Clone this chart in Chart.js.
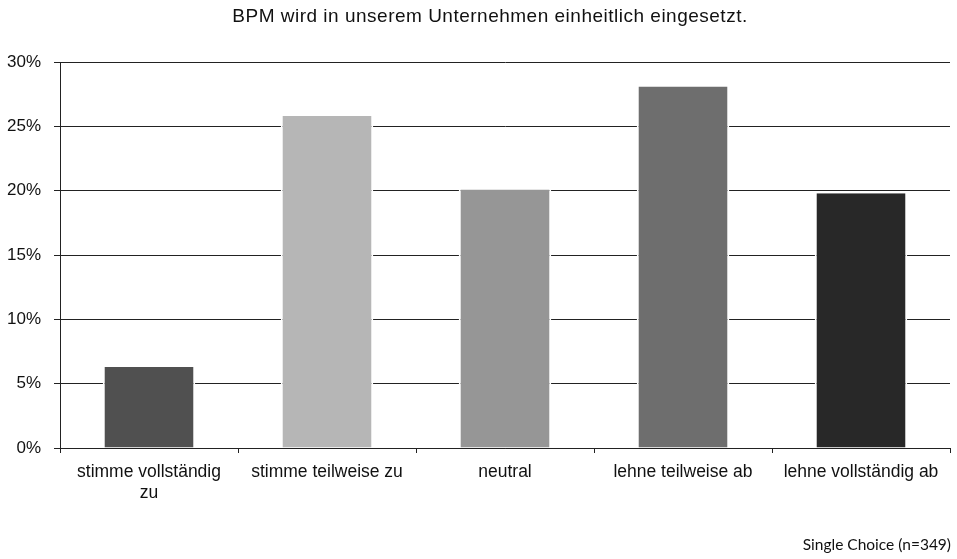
<!DOCTYPE html>
<html>
<head>
<meta charset="utf-8">
<script src="https://cdn.jsdelivr.net/npm/chart.js@4/dist/chart.umd.min.js"></script>
<style>
  html, body { margin: 0; padding: 0; background: #ffffff; }
  #wrap { width: 957px; height: 559px; }
</style>
</head>
<body>
<div id="wrap"><canvas id="c" width="957" height="559"></canvas></div>
<script>
// Answer categories (Likert scale)
const categories = [
  ['stimme vollständig', 'zu'],
  'stimme teilweise zu',
  'neutral',
  'lehne teilweise ab',
  'lehne vollständig ab'
];
// Share of respondents in percent (n = 349)
const shares = [6.3, 25.8, 20.1, 28.1, 19.8];
const barColors = ['#505050', '#b6b6b6', '#969696', '#6e6e6e', '#282828'];
const yTicks = [0, 5, 10, 15, 20, 25, 30];

const titleText = 'BPM wird in unserem Unternehmen einheitlich eingesetzt.';
const footerText = 'Single Choice (n=349)';

// Heading above the plot and the sample note in the lower right corner
const textPlugin = {
  id: 'headingAndNote',
  afterDraw(chart) {
    const ctx = chart.ctx;
    ctx.save();
    ctx.fillStyle = '#111111';
    ctx.textBaseline = 'middle';
    ctx.textAlign = 'center';
    ctx.font = '19px "Liberation Sans", Arial, sans-serif';
    ctx.letterSpacing = '0.5px';
    ctx.fillText(titleText, 490, 17);
    ctx.letterSpacing = '0px';
    ctx.textAlign = 'right';
    ctx.font = '15.5px Lato, "Open Sans", sans-serif';
    ctx.fillText(footerText, 951, 545);
    ctx.restore();
  }
};

new Chart(document.getElementById('c'), {
  type: 'bar',
  data: {
    labels: categories,
    datasets: [{
      data: shares,
      backgroundColor: barColors,
      borderColor: '#ffffff',
      borderWidth: { left: 2, right: 2, top: 0, bottom: 0 },
      borderSkipped: false,
      barPercentage: 0.52,
      categoryPercentage: 1.0
    }]
  },
  options: {
    responsive: false,
    animation: false,
    layout: { padding: { left: 0, right: 7, top: 62, bottom: 0 } },
    plugins: {
      legend: { display: false },
      tooltip: { enabled: false },
      title: { display: false }
    },
    scales: {
      x: {
        grid: {
          offset: true,
          drawOnChartArea: false,
          drawTicks: true,
          tickLength: 5,
          color: '#222222'
        },
        border: { display: true, color: '#222222', width: 1 },
        ticks: {
          color: '#111111',
          font: { family: '"Liberation Sans", Arial, sans-serif', size: 17.5, lineHeight: 1.2 },
          padding: 9,
          maxRotation: 0,
          autoSkip: false
        },
        afterFit(scale) { scale.height = 111; }
      },
      y: {
        min: 0,
        max: 30,
        afterBuildTicks(scale) { scale.ticks = yTicks.map(v => ({ value: v })); },
        grid: {
          color: '#222222',
          lineWidth: 1,
          drawTicks: true,
          tickLength: 6
        },
        border: { display: true, color: '#222222', width: 1 },
        ticks: {
          color: '#111111',
          font: { family: '"Liberation Sans", Arial, sans-serif', size: 17 },
          padding: 13,
          callback: v => v + '%'
        },
        afterFit(scale) { scale.width = 60; }
      }
    }
  },
  plugins: [textPlugin]
});
</script>
</body>
</html>
